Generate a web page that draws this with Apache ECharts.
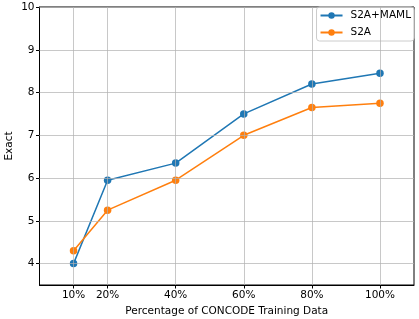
<!DOCTYPE html>
<html><head><meta charset="utf-8">
<script src="https://cdn.jsdelivr.net/npm/echarts@6/dist/echarts.min.js"></script>
<style>html,body{margin:0;padding:0;background:#fff}#c{width:419px;height:319px}</style>
</head><body><div id="c"></div>
<script>
const percentages = [10, 20, 40, 60, 80, 100];
const tickLabels = ['10%', '20%', '40%', '60%', '80%', '100%'];
const s2aMaml = [4.0, 5.95, 6.35, 7.5, 8.2, 8.45];
const s2a = [4.3, 5.25, 5.95, 7.0, 7.65, 7.75];
const yTicks = [4, 5, 6, 7, 8, 9, 10];

const FONT = 'DejaVu Sans';
const FS = 10.5;
const chart = echarts.init(document.getElementById('c'), null, {renderer: 'canvas'});
const pairs = arr => percentages.map((p, i) => [p, arr[i]]);
chart.setOption({
  animation: false,
  textStyle: {fontFamily: FONT},
  grid: {left: 39.5, right: 5, top: 7, bottom: 34, outerBoundsMode: 'none', containLabel: false,
    show: true, borderColor: '#000', borderWidth: 1, backgroundColor: 'transparent'},
  xAxis: {
    type: 'value', min: 0, max: 110,
    name: 'Percentage of CONCODE Training Data', nameLocation: 'middle', nameGap: 21,
    nameMoveOverlap: false,
    nameTextStyle: {fontSize: FS, color: '#000', fontFamily: FONT},
    axisLine: {show: true, onZero: false, lineStyle: {color: '#000', width: 1}},
    axisTick: {show: true, inside: false, length: 3.5, lineStyle: {color: '#000'}, customValues: percentages},
    axisLabel: {fontSize: FS, color: '#000', fontFamily: FONT, margin: 5,
      customValues: percentages,
      formatter: v => tickLabels[percentages.indexOf(v)] ?? ''},
    splitLine: {show: false}
  },
  yAxis: {
    type: 'value', min: 3.5, max: 10, interval: 0.5,
    name: 'Exact', nameLocation: 'middle', nameGap: 30, nameRotate: 90,
    nameMoveOverlap: false,
    nameTextStyle: {fontSize: FS, color: '#000', fontFamily: FONT, verticalAlign: 'middle'},
    axisLine: {show: true, lineStyle: {color: '#000', width: 1}},
    axisTick: {show: true, length: 3.5, lineStyle: {color: '#000'}, customValues: yTicks},
    axisLabel: {fontSize: FS, color: '#000', fontFamily: FONT, margin: 5, customValues: yTicks,
      formatter: v => String(v)},
    splitLine: {show: false}
  },
  legend: {
    orient: 'vertical', right: 5, top: 7,
    data: ['S2A+MAML', 'S2A'],
    itemWidth: 22, itemHeight: 8, itemGap: 6,
    padding: [3, 3, 3, 3],
    backgroundColor: 'rgba(255,255,255,0.85)', borderColor: '#ccc', borderWidth: 1, borderRadius: 3,
    textStyle: {fontSize: FS, color: '#000', fontFamily: FONT, padding: [0, 0, 0, 3]}
  },
  series: [
    {
      name: 'grid', type: 'line', data: [], silent: true,
      markLine: {
        silent: true, symbol: 'none', label: {show: false},
        lineStyle: {color: '#b0b0b0', width: 1, type: 'solid', opacity: 0.7},
        data: percentages.map(p => ({xAxis: p})).concat(yTicks.map(v => ({yAxis: v})))
      }
    },
    {
      name: 'S2A+MAML', type: 'line', data: pairs(s2aMaml),
      color: '#1f77b4', symbol: 'circle', symbolSize: 7.5,
      lineStyle: {width: 1.5}, itemStyle: {color: '#1f77b4'}
    },
    {
      name: 'S2A', type: 'line', data: pairs(s2a),
      color: '#ff7f0e', symbol: 'circle', symbolSize: 7.5,
      lineStyle: {width: 1.5}, itemStyle: {color: '#ff7f0e'}
    }
  ]
});
</script></body></html>
